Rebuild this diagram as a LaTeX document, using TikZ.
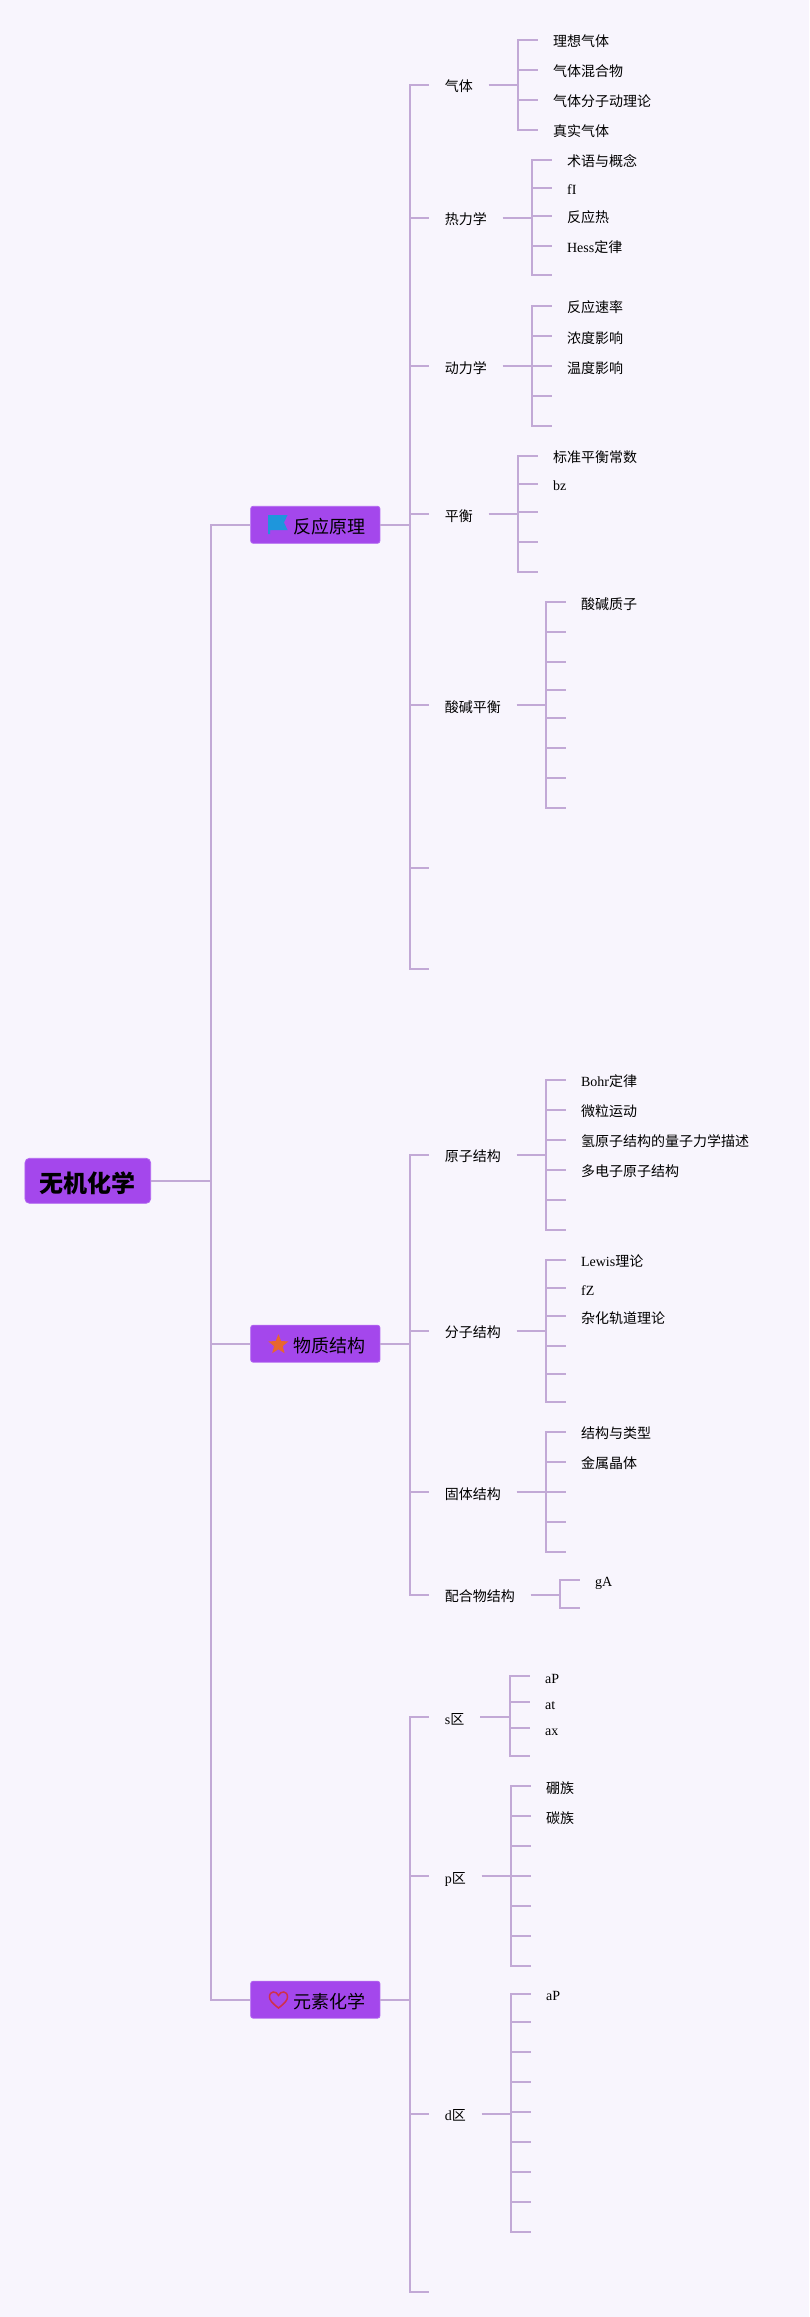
\documentclass[tikz,border=0pt]{standalone}
\usepackage{fontspec}
\setmainfont{Liberation Serif}
\newfontfamily\cjkfont{Noto Sans CJK SC}
\newcommand{\lat}[1]{{\rmfamily #1}}
\usetikzlibrary{shapes.geometric}
\definecolor{pagebg}{HTML}{F8F5FD}
\definecolor{branchline}{HTML}{C2A9D6}
\definecolor{boxfill}{HTML}{A447EC}
\definecolor{boxedge}{HTML}{B266F0}
\tikzset{
  branch/.style={draw=branchline,line width=2pt},
  rootbox/.style={fill=boxfill,draw=boxedge,line width=0.8pt,rounded corners=4.5pt,inner sep=0pt,minimum width=125.7pt,minimum height=45pt,text height=24pt,text depth=0pt,font=\fontsize{24}{28}\selectfont\cjkfont\bfseries},
  mainbox/.style={fill=boxfill,draw=boxedge,line width=0.8pt,rounded corners=2.5pt,inner sep=0pt,minimum width=129.3pt,minimum height=37pt,text height=17.5pt,text depth=0pt,font=\fontsize{18}{22}\selectfont\cjkfont},
  subject/.style={anchor=west,inner xsep=15.6pt,inner ysep=0pt,text height=14pt,text depth=0pt,font=\fontsize{14}{16}\selectfont\cjkfont},
  leaf/.style={subject,inner xsep=14.9pt}
}
\begin{document}
\begin{tikzpicture}[x=1pt,y=-1pt]
\useasboundingbox[fill=pagebg] (0,0) rectangle (809,2317);

% Root and main topics
\draw (87.8,1180.8) node [rootbox] (root) {无机化学};
\draw (315.3,524.8) node [mainbox] (fy) {\hspace*{28.8pt}反应原理};
\draw (315.3,1343.7) node [mainbox] (wz) {\hspace*{28.8pt}物质结构};
\draw (315.3,1999.7) node [mainbox] (ys) {\hspace*{28.8pt}元素化学};
\coordinate (rootJ) at (210.7,1180.8);
\draw [branch] (root.east) -- (rootJ);
\draw [branch] (rootJ) |- (fy.west) (rootJ) |- (wz.west) (rootJ) |- (ys.west);

% Icons
\fill [color={rgb, 255:red, 30; green, 150; blue, 220}] (268,515) -- (287.5,515) -- (284,522.5) -- (287.5,530) -- (270,530) -- (270,534) -- (268,534) -- cycle;
\node [star,star points=5,star point ratio=2.3,fill={rgb, 255:red, 232; green, 102; blue, 46},inner sep=0pt,minimum size=21pt] (wzIcon) at (278.4,1344.7) {};
\draw [color={rgb, 255:red, 208; green, 48; blue, 74},line width=1.5pt] (278.5,2008) .. controls (272,2003) and (269.5,2000) .. (269.5,1997) .. controls (269.5,1990.5) and (276.5,1990.5) .. (278.5,1995.5) .. controls (280.5,1990.5) and (287.5,1990.5) .. (287.5,1997) .. controls (287.5,2000) and (285,2003) .. (278.5,2008) -- cycle;

% Subjects under the first main topic
\draw (429,85) node [subject] (qt) {气体};
\draw (429,218) node [subject] (rl) {热力学};
\draw (429,366) node [subject] (dl) {动力学};
\draw (429,514) node [subject] (ph) {平衡};
\draw (429,705) node [subject] (sj) {酸碱平衡};
\coordinate (fyE1) at (429,868);
\coordinate (fyE2) at (429,968.7);
\coordinate (fyJ) at (410,524.8);
\draw [branch] (fy.east) -- (fyJ);
\draw [branch] (fyJ) |- (qt.west) (fyJ) |- (rl.west) (fyJ) |- (dl.west) (fyJ) |- (ph.west) (fyJ) |- (sj.west) (fyJ) |- (fyE1) (fyJ) |- (fyE2);

% Gas
\draw (538,39.8) node [leaf] (qt1) {理想气体};
\draw (538,70) node [leaf] (qt2) {气体混合物};
\draw (538,99.9) node [leaf] (qt3) {气体分子动理论};
\draw (538,129.7) node [leaf] (qt4) {真实气体};
\coordinate (qtJ) at (517.7,85);
\draw [branch] (qt.east) -- (qtJ);
\draw [branch] (qtJ) |- (qt1.west) (qtJ) |- (qt2.west) (qtJ) |- (qt3.west) (qtJ) |- (qt4.west);

% Thermodynamics
\draw (552,160) node [leaf] (rl1) {术语与概念};
\draw (552,188) node [leaf] (rl2) {\lat{fI}};
\draw (552,215.8) node [leaf] (rl3) {反应热};
\draw (552,245.7) node [leaf] (rl4) {\lat{Hess}定律};
\coordinate (rl5) at (552,275.5);
\coordinate (rlJ) at (531.7,218);
\draw [branch] (rl.east) -- (rlJ);
\draw [branch] (rlJ) |- (rl1.west) (rlJ) |- (rl2.west) (rlJ) |- (rl3.west) (rlJ) |- (rl4.west) (rlJ) |- (rl5);

% Kinetics
\draw (552,305.8) node [leaf] (dl1) {反应速率};
\draw (552,336) node [leaf] (dl2) {浓度影响};
\draw (552,366) node [leaf] (dl3) {温度影响};
\coordinate (dl4) at (552,395.7);
\coordinate (dl5) at (552,425.9);
\coordinate (dlJ) at (531.7,366);
\draw [branch] (dl.east) -- (dlJ);
\draw [branch] (dlJ) |- (dl1.west) (dlJ) |- (dl2.west) (dlJ) |- (dl3.west) (dlJ) |- (dl4) (dlJ) |- (dl5);

% Equilibrium
\draw (538,455.8) node [leaf] (ph1) {标准平衡常数};
\draw (538,483.7) node [leaf] (ph2) {\lat{bz}};
\coordinate (ph3) at (538,511.7);
\coordinate (ph4) at (538,541.9);
\coordinate (ph5) at (538,571.8);
\coordinate (phJ) at (517.7,514);
\draw [branch] (ph.east) -- (phJ);
\draw [branch] (phJ) |- (ph1.west) (phJ) |- (ph2.west) (phJ) |- (ph3) (phJ) |- (ph4) (phJ) |- (ph5);

% Acid and base
\draw (566,602) node [leaf] (sj1) {酸碱质子};
\coordinate (sj2) at (566,632);
\coordinate (sj3) at (566,662);
\coordinate (sj4) at (566,690);
\coordinate (sj5) at (566,718);
\coordinate (sj6) at (566,748);
\coordinate (sj7) at (566,778);
\coordinate (sj8) at (566,808);
\coordinate (sjJ) at (545.7,705);
\draw [branch] (sj.east) -- (sjJ);
\draw [branch] (sjJ) |- (sj1.west) (sjJ) |- (sj2) (sjJ) |- (sj3) (sjJ) |- (sj4) (sjJ) |- (sj5) (sjJ) |- (sj6) (sjJ) |- (sj7) (sjJ) |- (sj8);

% Subjects under the second main topic
\draw (429,1154.9) node [subject] (yz) {原子结构};
\draw (429,1330.9) node [subject] (fz) {分子结构};
\draw (429,1492) node [subject] (gt) {固体结构};
\draw (429,1594.7) node [subject] (ph6) {配合物结构};
\coordinate (wzJ) at (410,1343.7);
\draw [branch] (wz.east) -- (wzJ);
\draw [branch] (wzJ) |- (yz.west) (wzJ) |- (fz.west) (wzJ) |- (gt.west) (wzJ) |- (ph6.west);

% Atom
\draw (566,1079.9) node [leaf] (yz1) {\lat{Bohr}定律};
\draw (566,1109.7) node [leaf] (yz2) {微粒运动};
\draw (566,1139.9) node [leaf] (yz3) {氢原子结构的量子力学描述};
\draw (566,1169.8) node [leaf] (yz4) {多电子原子结构};
\coordinate (yz5) at (566,1200);
\coordinate (yz6) at (566,1229.9);
\coordinate (yzJ) at (545.7,1154.9);
\draw [branch] (yz.east) -- (yzJ);
\draw [branch] (yzJ) |- (yz1.west) (yzJ) |- (yz2.west) (yzJ) |- (yz3.west) (yzJ) |- (yz4.west) (yzJ) |- (yz5) (yzJ) |- (yz6);

% Molecule
\draw (566,1259.7) node [leaf] (fz1) {\lat{Lewis}理论};
\draw (566,1288) node [leaf] (fz2) {\lat{fZ}};
\draw (566,1316) node [leaf] (fz3) {杂化轨道理论};
\coordinate (fz4) at (566,1345.8);
\coordinate (fz5) at (566,1373.8);
\coordinate (fz6) at (566,1401.7);
\coordinate (fzJ) at (545.7,1330.9);
\draw [branch] (fz.east) -- (fzJ);
\draw [branch] (fzJ) |- (fz1.west) (fzJ) |- (fz2.west) (fzJ) |- (fz3.west) (fzJ) |- (fz4) (fzJ) |- (fz5) (fzJ) |- (fz6);

% Solid
\draw (566,1431.9) node [leaf] (gt1) {结构与类型};
\draw (566,1461.8) node [leaf] (gt2) {金属晶体};
\coordinate (gt3) at (566,1492);
\coordinate (gt4) at (566,1521.9);
\coordinate (gt5) at (566,1551.7);
\coordinate (gtJ) at (545.7,1492);
\draw [branch] (gt.east) -- (gtJ);
\draw [branch] (gtJ) |- (gt1.west) (gtJ) |- (gt2.west) (gtJ) |- (gt3) (gtJ) |- (gt4) (gtJ) |- (gt5);

% Complex
\draw (580,1579.7) node [leaf] (ph61) {\lat{gA}};
\coordinate (ph62) at (580,1608);
\coordinate (ph6J) at (559.7,1594.7);
\draw [branch] (ph6.east) -- (ph6J);
\draw [branch] (ph6J) |- (ph61.west) (ph6J) |- (ph62);

% Subjects under the third main topic
\draw (429,1717) node [subject] (sq) {\lat{s}区};
\draw (429,1876) node [subject] (pq) {\lat{p}区};
\draw (429,2113.7) node [subject] (dq) {\lat{d}区};
\coordinate (ysE1) at (429,2291.7);
\coordinate (ysJ) at (410,1999.7);
\draw [branch] (ys.east) -- (ysJ);
\draw [branch] (ysJ) |- (sq.west) (ysJ) |- (pq.west) (ysJ) |- (dq.west) (ysJ) |- (ysE1);

% s block
\draw (530,1676) node [leaf] (sq1) {\lat{aP}};
\draw (530,1702) node [leaf] (sq2) {\lat{at}};
\draw (530,1728) node [leaf] (sq3) {\lat{ax}};
\coordinate (sq4) at (530,1755.7);
\coordinate (sqJ) at (509.7,1717);
\draw [branch] (sq.east) -- (sqJ);
\draw [branch] (sqJ) |- (sq1.west) (sqJ) |- (sq2.west) (sqJ) |- (sq3.west) (sqJ) |- (sq4);

% p block
\draw (531,1786) node [leaf] (pq1) {硼族};
\draw (531,1816) node [leaf] (pq2) {碳族};
\coordinate (pq3) at (531,1846);
\coordinate (pq4) at (531,1876);
\coordinate (pq5) at (531,1906);
\coordinate (pq6) at (531,1936);
\coordinate (pq7) at (531,1965.7);
\coordinate (pqJ) at (510.7,1876);
\draw [branch] (pq.east) -- (pqJ);
\draw [branch] (pqJ) |- (pq1.west) (pqJ) |- (pq2.west) (pqJ) |- (pq3) (pqJ) |- (pq4) (pqJ) |- (pq5) (pqJ) |- (pq6) (pqJ) |- (pq7);

% d block
\draw (531,1993.7) node [leaf] (dq1) {\lat{aP}};
\coordinate (dq2) at (531,2021.7);
\coordinate (dq3) at (531,2052);
\coordinate (dq4) at (531,2082);
\coordinate (dq5) at (531,2112);
\coordinate (dq6) at (531,2142);
\coordinate (dq7) at (531,2172);
\coordinate (dq8) at (531,2202);
\coordinate (dq9) at (531,2232);
\coordinate (dqJ) at (510.7,2113.7);
\draw [branch] (dq.east) -- (dqJ);
\draw [branch] (dqJ) |- (dq1.west) (dqJ) |- (dq2) (dqJ) |- (dq3) (dqJ) |- (dq4) (dqJ) |- (dq5) (dqJ) |- (dq6) (dqJ) |- (dq7) (dqJ) |- (dq8) (dqJ) |- (dq9);
\end{tikzpicture}
\end{document}
